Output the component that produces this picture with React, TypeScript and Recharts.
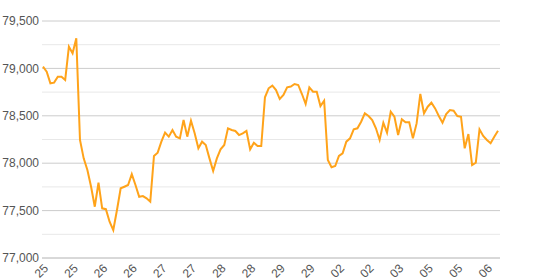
import React from "react";
import { LineChart, Line, XAxis, YAxis, CartesianGrid, ReferenceLine } from "recharts";

// one value per period
const prices = [
    79018, 78965, 78843, 78850, 78912, 78912, 78878, 79229, 79159, 79317,
    78245, 78051, 77928, 77752, 77541, 77794, 77524, 77515, 77383, 77295,
    77506, 77735, 77752, 77770, 77885, 77770, 77646, 77653, 77630, 77594,
    78076, 78111, 78227, 78322, 78280, 78350, 78280, 78262, 78455, 78280,
    78448, 78315, 78157, 78227, 78192, 78051, 77918, 78051, 78146, 78192,
    78368, 78350, 78340, 78297, 78315, 78340, 78146, 78216, 78181, 78181,
    78695, 78790, 78818, 78772, 78677, 78719, 78800, 78808, 78835, 78825,
    78730, 78624, 78800, 78754, 78754, 78603, 78660, 78034, 77957, 77970,
    78076, 78104, 78227, 78262, 78357, 78368, 78438, 78526, 78498, 78455,
    78368, 78245, 78427, 78322, 78543, 78490, 78297, 78463, 78431, 78431,
    78262, 78420, 78730, 78526, 78596, 78638, 78578, 78498, 78427, 78519,
    78561, 78554, 78498, 78490, 78157, 78308, 77981, 78005, 78357, 78287,
    78245, 78210, 78280, 78343,
];

const tickIndexes = [0, 8, 16, 24, 32, 40, 48, 56, 64, 72, 80, 88, 96, 104, 112, 120];
const tickLabels = ["25", "25", "26", "26", "27", "27", "28", "28", "29", "29", "02", "02", "03", "05", "05", "06"];

const yTicks = [77000, 77500, 78000, 78500, 79000, 79500];
const yMinorTicks = [77250, 77750, 78250, 78750, 79250];

const data = prices.map((price, i) => ({ i, price }));

const labelFont = { fill: "#555", fontSize: 12, fontFamily: "'Liberation Sans', Arial, sans-serif" };

export default function App() {
    return (
        <div style={{ position: "absolute", left: 0, top: 0, width: 540, height: 280, background: "#fff" }}>
            <LineChart width={540} height={280} data={data} margin={{ top: 21, right: 40, left: 0, bottom: 0 }}>
                <CartesianGrid vertical={false} stroke="#cccccc" />
                {yMinorTicks.map((v) => (
                    <ReferenceLine key={v} y={v} stroke="#e8e8e8" />
                ))}
                <XAxis
                    dataKey="i"
                    type="number"
                    domain={[0, prices.length - 1]}
                    ticks={tickIndexes}
                    tickFormatter={(v: number) => tickLabels[tickIndexes.indexOf(v)] ?? ""}
                    interval={0}
                    padding={{ left: 1, right: 2 }}
                    height={22}
                    angle={-45}
                    textAnchor="end"
                    tickLine={false}
                    tickSize={5}
                    tickMargin={0}
                    axisLine={{ stroke: "#cccccc" }}
                    tick={labelFont}
                />
                <YAxis
                    domain={[77000, 79500]}
                    ticks={yTicks}
                    width={42}
                    axisLine={false}
                    tickLine={false}
                    tickSize={0}
                    tickMargin={3}
                    tick={labelFont}
                    tickFormatter={(v: number) => v.toLocaleString("en-US")}
                />
                <Line
                    type="linear"
                    dataKey="price"
                    stroke="#ffa31a"
                    strokeWidth={2}
                    dot={false}
                    isAnimationActive={false}
                />
            </LineChart>
        </div>
    );
}
